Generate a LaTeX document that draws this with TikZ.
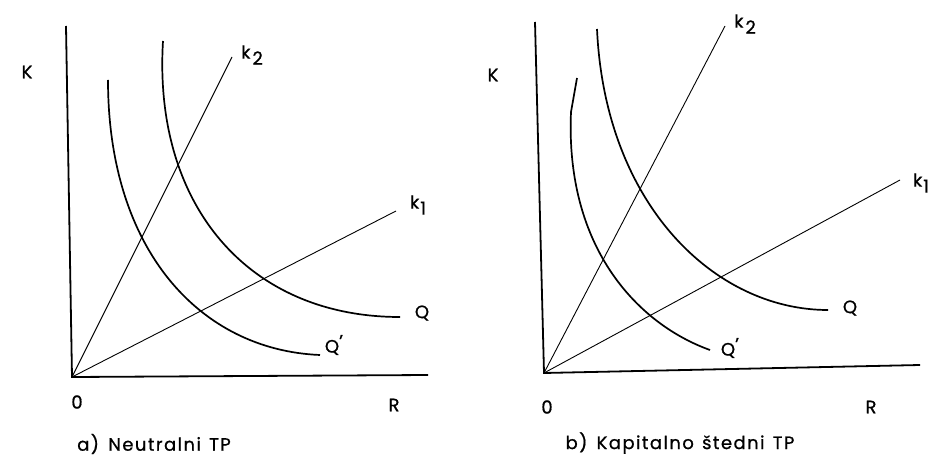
\documentclass[tikz,border=0pt]{standalone}
\usepackage{fontspec}
\setmainfont{Poppins}[LetterSpace=3,FakeBold=0.8]
\begin{document}
\begin{tikzpicture}[x=1pt,y=-1pt,
  axis/.style={line width=1.8pt},
  ray/.style={line width=0.9pt},
  iso/.style={line width=1.7pt},
  lbl/.style={font=\fontsize{18}{18}\selectfont, inner sep=0pt},
  captxt/.style={font=\fontsize{18}{18}\selectfont\addfontfeature{LetterSpace=8}, inner sep=0pt}]
\useasboundingbox (0,0) rectangle (933,457);
% ---------- panel a ----------
\coordinate (Oa) at (72,377);
\coordinate (Ya) at (66,26);
\coordinate (Xa) at (428,375);
\coordinate (k2a) at (232,57);
\coordinate (k1a) at (396,211);
\draw[axis] (Ya) -- (Oa) -- (Xa);
\draw[ray] (Oa) -- (k2a);
\draw[ray] (Oa) -- (k1a);
\draw[iso] (163,41) .. controls (153,205) and (248,317) .. (400,317);
\draw[iso] (108,80) .. controls (108,250) and (200,350) .. (320,355);
\node[lbl] (Ka) at (27,72) {K};
\node[lbl] (zeroa) at (77,402) {0};
\node[lbl] (Ra) at (394,405) {R};
\node[lbl] (lk2a) at (252,55) {k\hspace{2pt}\raisebox{-6pt}{2}};
\node[lbl] (lk1a) at (418,205) {k\hspace{1pt}\raisebox{-6pt}{1}};
\node[lbl] (lQa) at (422,313) {Q};
\node[lbl] (lQpa) at (334,345) {Q\raisebox{5pt}{'}};
\node[captxt] (capa) at (154,444) {a)\hspace{3pt} Neutralni\hspace{2pt} TP};
% ---------- panel b ----------
\coordinate (Ob) at (544,373);
\coordinate (Yb) at (535,22);
\coordinate (Xb) at (920,365);
\coordinate (k2b) at (725,26);
\coordinate (k1b) at (900,180);
\draw[axis] (Yb) -- (Ob) -- (Xb);
\draw[ray] (Ob) -- (k2b);
\draw[ray] (Ob) -- (k1b);
\draw[iso] (597,29) .. controls (605,205) and (715,310) .. (828,310);
\draw[iso] (577,78) -- (571,112) .. controls (565,250) and (640,325) .. (710,350);
\node[lbl] (Kb) at (493,75) {K};
\node[lbl] (zerob) at (547,407) {0};
\node[lbl] (Rb) at (871,407) {R};
\node[lbl] (lk2b) at (745,24) {k\hspace{2pt}\raisebox{-6pt}{2}};
\node[lbl] (lk1b) at (921,183) {k\hspace{1pt}\raisebox{-6pt}{1}};
\node[lbl] (lQb) at (850,308) {Q};
\node[lbl] (lQpb) at (730,348) {Q\raisebox{5pt}{'}};
\node[captxt] (capb) at (680,443) {b)\hspace{3pt} Kapitalno\hspace{2pt} štedni\hspace{2pt} TP};
\end{tikzpicture}
\end{document}
